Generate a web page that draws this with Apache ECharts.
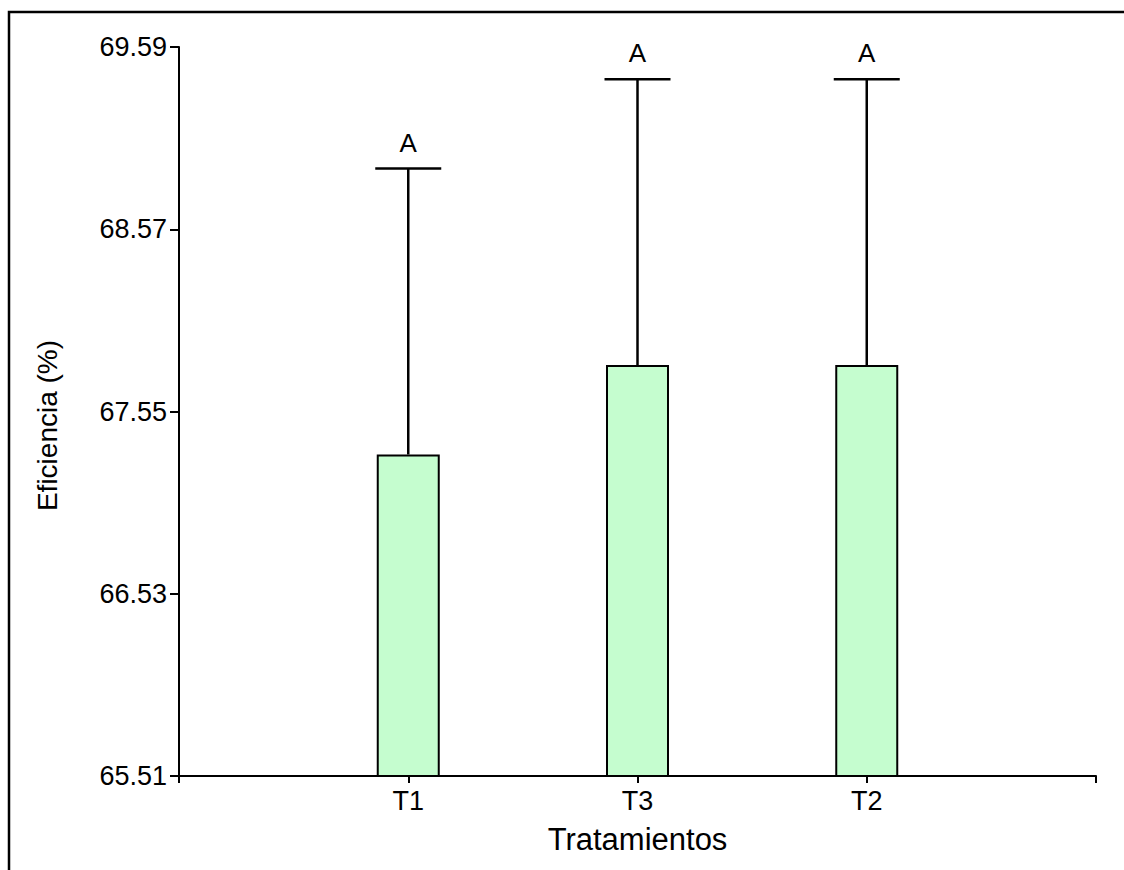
<!DOCTYPE html>
<html>
<head>
<meta charset="utf-8">
<script src="https://cdn.jsdelivr.net/npm/echarts@6/dist/echarts.min.js"></script>
<style>
  html, body { margin: 0; padding: 0; background: #fff; }
  #chart { width: 1124px; height: 870px; }
</style>
</head>
<body>
<div id="chart"></div>
<script>
// tratamientos, en el orden del grafico
const categories = ["T1", "T3", "T2"];
const means = [67.31, 67.81, 67.81];
const upperErr = [68.91, 69.41, 69.41];
const letters = ["A", "A", "A"];
const yTicks = [65.51, 66.53, 67.55, 68.57, 69.59];

const font = "'Liberation Sans', Arial, sans-serif";
const axisData = [""].concat(categories, [""]);

const chart = echarts.init(document.getElementById("chart"), null, { renderer: "svg" });
chart.setOption({
  animation: false,
  backgroundColor: "#fff",
  graphic: [
    {
      type: "rect",
      shape: { x: 9, y: 12, width: 1300, height: 1000 },
      style: { fill: "none", stroke: "#000", lineWidth: 2.5 },
      silent: true
    }
  ],
  grid: { left: 179, right: 28, top: 47, bottom: 94 },
  xAxis: {
    type: "category",
    data: axisData,
    boundaryGap: false,
    name: "Tratamientos",
    nameLocation: "middle",
    nameGap: 48,
    nameTextStyle: { fontFamily: font, fontSize: 31, color: "#000" },
    axisLine: { lineStyle: { color: "#000", width: 2 } },
    axisTick: { show: true, length: 7, lineStyle: { color: "#000", width: 2 } },
    axisLabel: { fontFamily: font, fontSize: 27, color: "#000", margin: 11 },
    splitLine: { show: false }
  },
  yAxis: {
    type: "value",
    min: yTicks[0],
    max: yTicks[yTicks.length - 1],
    name: "Eficiencia (%)",
    nameLocation: "middle",
    nameGap: 118,
    nameTextStyle: { fontFamily: font, fontSize: 28, color: "#000", padding: [0, 28, 0, 0] },
    axisLine: { show: true, lineStyle: { color: "#000", width: 2 } },
    axisTick: { show: true, length: 9, customValues: yTicks, lineStyle: { color: "#000", width: 2 } },
    axisLabel: {
      fontFamily: font, fontSize: 27, color: "#000", margin: 12,
      customValues: yTicks,
      formatter: (v) => v.toFixed(2)
    },
    splitLine: { show: false }
  },
  series: [
    {
      type: "bar",
      data: categories.map((c, i) => [c, means[i]]),
      barWidth: 63,
      itemStyle: { color: "#C5FDCF", borderColor: "#000", borderWidth: 2 }
    },
    {
      type: "custom",
      data: categories.map((c, i) => [c, means[i], upperErr[i]]),
      z: 5,
      renderItem: function (params, api) {
        const top = api.coord([api.value(0), api.value(1)]);
        const hi = api.coord([api.value(0), api.value(2)]);
        const half = 33;
        return {
          type: "group",
          children: [
            {
              type: "line",
              shape: { x1: top[0], y1: top[1], x2: hi[0], y2: hi[1] },
              style: { stroke: "#000", lineWidth: 2.5 }
            },
            {
              type: "line",
              shape: { x1: hi[0] - half, y1: hi[1], x2: hi[0] + half, y2: hi[1] },
              style: { stroke: "#000", lineWidth: 2.5 }
            },
            {
              type: "text",
              x: hi[0],
              y: hi[1] - 13,
              style: {
                text: letters[params.dataIndex],
                fontFamily: font,
                fontSize: 26,
                fill: "#000",
                align: "center",
                verticalAlign: "bottom"
              }
            }
          ]
        };
      }
    }
  ]
});
</script>
</body>
</html>
